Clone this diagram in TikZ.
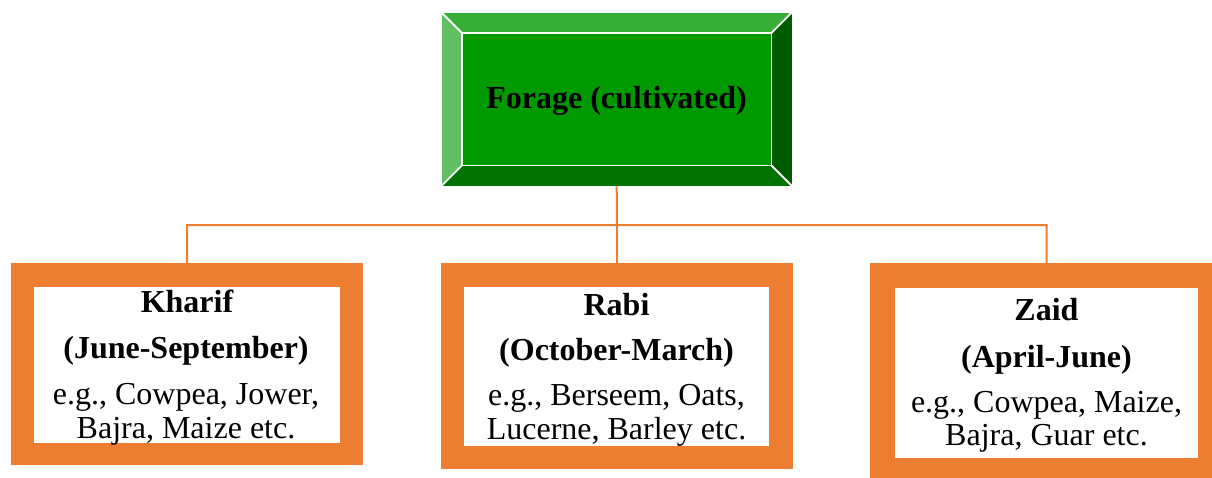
\documentclass[tikz,border=0pt]{standalone}
\usepackage{fontspec}
\setmainfont{Liberation Serif}
\definecolor{orng}{HTML}{ED7D31}
\definecolor{gface}{HTML}{009900}
\definecolor{gtop}{HTML}{37AE37}
\definecolor{gleft}{HTML}{62BE62}
\definecolor{gright}{HTML}{005A00}
\definecolor{gbot}{HTML}{007300}
\tikzset{
  outerbox/.style={fill=orng, draw=none, inner sep=0pt, anchor=north west},
  innerbox/.style={fill=white, draw=none, inner sep=0pt, anchor=north west},
  txt/.style={anchor=base, inner sep=0pt, font=\fontsize{32}{38}\selectfont},
  conn/.style={draw=orng, line width=2pt},
  bevelline/.style={draw=white, line width=1.8pt}
}
\begin{document}
\begin{tikzpicture}[x=1pt,y=-1pt]
\useasboundingbox (0,0) rectangle (1212,477);

% top beveled box
\node[inner sep=0pt, anchor=north west, minimum width=351pt, minimum height=174pt] (forage) at (441,12) {};
\node[inner sep=0pt, anchor=north west, minimum width=309pt, minimum height=132pt] (forageface) at (462,33) {};
\fill[gtop] (forage.north west) -- (forage.north east) -- (forageface.north east) -- (forageface.north west) -- cycle;
\fill[gright] (forage.north east) -- (forage.south east) -- (forageface.south east) -- (forageface.north east) -- cycle;
\fill[gbot] (forage.south west) -- (forage.south east) -- (forageface.south east) -- (forageface.south west) -- cycle;
\fill[gleft] (forage.north west) -- (forage.south west) -- (forageface.south west) -- (forageface.north west) -- cycle;
\fill[gface] (forageface.north west) rectangle (forageface.south east);
\draw[bevelline] (forageface.north west) rectangle (forageface.south east);
\draw[bevelline] (forage.north west) -- (forageface.north west);
\draw[bevelline] (forage.north east) -- (forageface.north east);
\draw[bevelline] (forage.south east) -- (forageface.south east);
\draw[bevelline] (forage.south west) -- (forageface.south west);
\draw[white, line width=0.8pt] (forage.north west) rectangle (forage.south east);
\node[txt] (foragetext) at (616.5,108) {\bfseries Forage (cultivated)};

% orange framed boxes
\node[outerbox, minimum width=352pt, minimum height=202pt] (kharif) at (11,263) {};
\node[innerbox, minimum width=306pt, minimum height=156pt] (kharifin) at (34,287) {};
\node[outerbox, minimum width=352pt, minimum height=206pt] (rabi) at (441,263) {};
\node[innerbox, minimum width=305pt, minimum height=159pt] (rabiin) at (464,287) {};
\node[outerbox, minimum width=353pt, minimum height=220pt] (zaid) at (870,263) {};
\node[innerbox, minimum width=303pt, minimum height=170pt] (zaidin) at (895,288) {};

% connectors
\coordinate (jl) at (187,225);
\coordinate (jr) at (1046.5,225);
\draw[conn] (forage.south) -- (rabi.north);
\draw[conn] (kharif.north) -- (jl) -- (jr) -- (zaid.north);

% texts
\node[txt] (k1) at (187,312) {\bfseries Kharif};
\node[txt] (k2) at (186,358) {\bfseries (June-September)};
\node[txt] (k3) at (186,404) {e.g., Cowpea, Jower,};
\node[txt] (k4) at (186,438) {Bajra, Maize etc.};

\node[txt] (r1) at (616.5,315) {\bfseries Rabi};
\node[txt] (r2) at (616.5,360) {\bfseries (October-March)};
\node[txt] (r3) at (616.5,405) {e.g., Berseem, Oats,};
\node[txt] (r4) at (616.5,439) {Lucerne, Barley etc.};

\node[txt] (z1) at (1046.5,320) {\bfseries Zaid};
\node[txt] (z2) at (1046.5,367) {\bfseries (April-June)};
\node[txt] (z3) at (1046.5,412) {e.g., Cowpea, Maize,};
\node[txt] (z4) at (1046.5,445) {Bajra, Guar etc.};
\end{tikzpicture}
\end{document}
